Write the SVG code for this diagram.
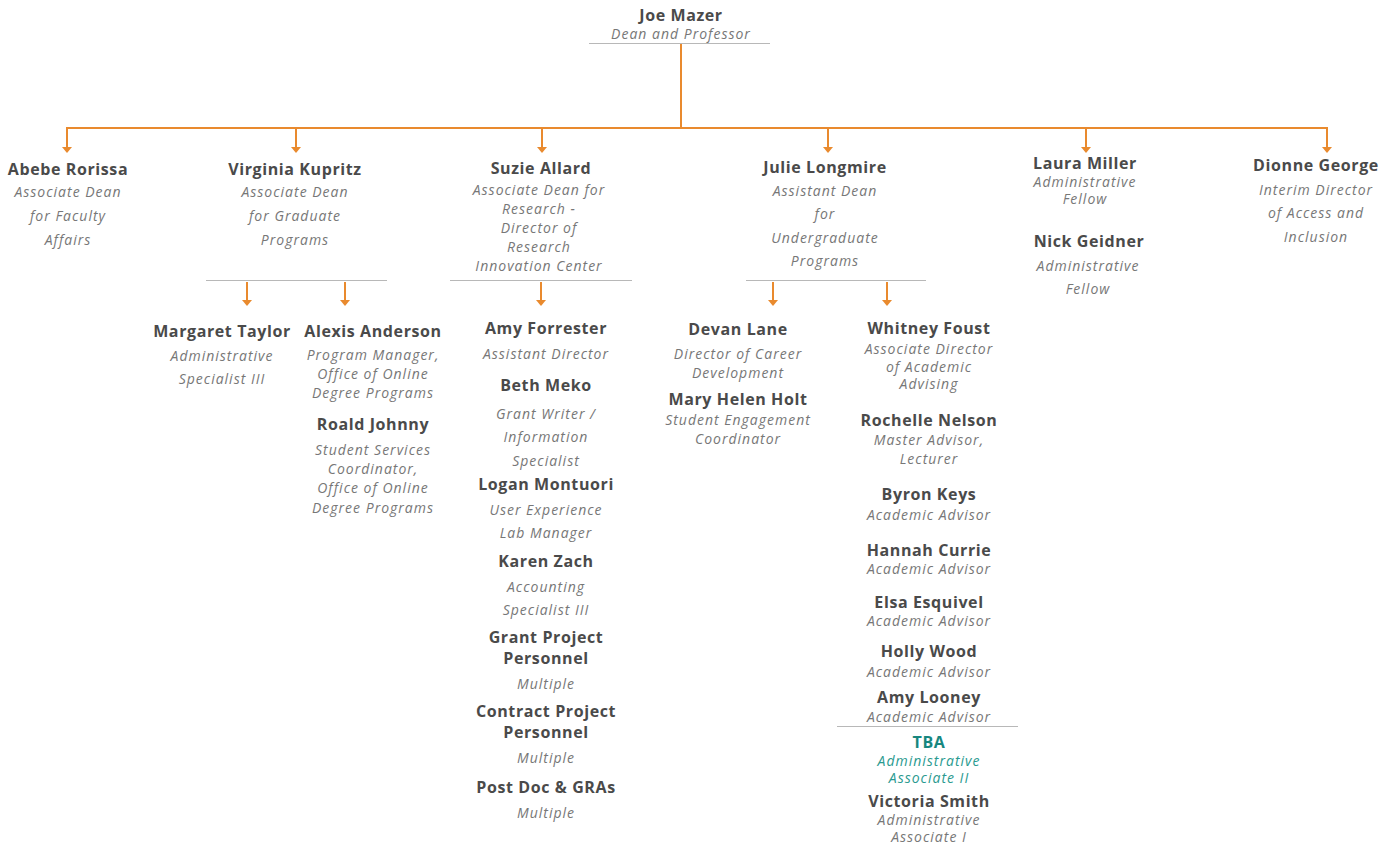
<svg xmlns="http://www.w3.org/2000/svg" width="1395" height="846" viewBox="0 0 1395 846">
<style>
.n{font-family:"Open Sans","Liberation Sans",sans-serif;font-weight:700;font-size:16px;letter-spacing:0.6px;fill:#4a4a4a;text-anchor:middle}
.t{font-family:"Open Sans","Liberation Sans",sans-serif;font-style:italic;font-size:14px;letter-spacing:1px;fill:#777777;text-anchor:middle}
.tn{fill:#17877f}
.tt{fill:#2a9a90}
.sep{stroke:#b8b8b8;stroke-width:1.2}
.c{stroke:#e98a2e;stroke-width:2;fill:none}
</style>
<rect width="1395" height="846" fill="#ffffff"/>
<g id="separators">
<line class="sep" x1="589" y1="43.5" x2="770" y2="43.5"/>
<line class="sep" x1="206" y1="280.5" x2="387" y2="280.5"/>
<line class="sep" x1="450" y1="280.5" x2="632" y2="280.5"/>
<line class="sep" x1="746" y1="280.5" x2="926" y2="280.5"/>
<line class="sep" x1="837" y1="726.5" x2="1018" y2="726.5"/>
</g>
<g id="connectors">
<path class="c" d="M681,44 V128 M66,128 H1328"/>
<path class="c" d="M67,127 V147 M296,128 V147 M542,128 V147 M828,128 V147 M1086,128 V147 M1327,127 V147"/>
<g fill="#e98a2e">
<path d="M62,147 H72 L67,153 Z"/>
<path d="M291,147 H301 L296,153 Z"/>
<path d="M537,147 H547 L542,153 Z"/>
<path d="M823,147 H833 L828,153 Z"/>
<path d="M1081,147 H1091 L1086,153 Z"/>
<path d="M1322,147 H1332 L1327,153 Z"/>
</g>
<path class="c" d="M247,282 V300 M345,282 V300 M541,282 V300 M773,282 V300 M887,282 V300"/>
<g fill="#e98a2e">
<path d="M242,300 H252 L247,306 Z"/>
<path d="M340,300 H350 L345,306 Z"/>
<path d="M536,300 H546 L541,306 Z"/>
<path d="M768,300 H778 L773,306 Z"/>
<path d="M882,300 H892 L887,306 Z"/>
</g>
</g>
<g id="joe-mazer">
<text class="n" x="681" y="21">Joe Mazer</text>
<text class="t" x="681" y="39">Dean and Professor</text>
</g>
<g id="abebe-rorissa">
<text class="n" x="68" y="175">Abebe Rorissa</text>
<text class="t" x="68" y="197">Associate Dean</text>
<text class="t" x="68" y="221">for Faculty</text>
<text class="t" x="68" y="245">Affairs</text>
</g>
<g id="virginia-kupritz">
<text class="n" x="295" y="175">Virginia Kupritz</text>
<text class="t" x="295" y="197">Associate Dean</text>
<text class="t" x="295" y="221">for Graduate</text>
<text class="t" x="295" y="245">Programs</text>
</g>
<g id="suzie-allard">
<text class="n" x="541" y="174">Suzie Allard</text>
<text class="t" x="539" y="195">Associate Dean for</text>
<text class="t" x="539" y="214">Research -</text>
<text class="t" x="539" y="233">Director of</text>
<text class="t" x="539" y="252">Research</text>
<text class="t" x="539" y="271">Innovation Center</text>
</g>
<g id="julie-longmire">
<text class="n" x="825" y="173">Julie Longmire</text>
<text class="t" x="825" y="196">Assistant Dean</text>
<text class="t" x="825" y="219">for</text>
<text class="t" x="825" y="243">Undergraduate</text>
<text class="t" x="825" y="266">Programs</text>
</g>
<g id="laura-miller">
<text class="n" x="1085" y="169">Laura Miller</text>
<text class="t" x="1085" y="187">Administrative</text>
<text class="t" x="1085" y="204">Fellow</text>
</g>
<g id="nick-geidner">
<text class="n" x="1089" y="247">Nick Geidner</text>
<text class="t" x="1088" y="271">Administrative</text>
<text class="t" x="1088" y="294">Fellow</text>
</g>
<g id="dionne-george">
<text class="n" x="1316" y="171">Dionne George</text>
<text class="t" x="1316" y="195">Interim Director</text>
<text class="t" x="1316" y="218">of Access and</text>
<text class="t" x="1316" y="242">Inclusion</text>
</g>
<g id="margaret-taylor">
<text class="n" x="222" y="337">Margaret Taylor</text>
<text class="t" x="222" y="361">Administrative</text>
<text class="t" x="222" y="384">Specialist III</text>
</g>
<g id="alexis-anderson">
<text class="n" x="373" y="337">Alexis Anderson</text>
<text class="t" x="373" y="360">Program Manager,</text>
<text class="t" x="373" y="379">Office of Online</text>
<text class="t" x="373" y="398">Degree Programs</text>
</g>
<g id="roald-johnny">
<text class="n" x="373" y="430">Roald Johnny</text>
<text class="t" x="373" y="455">Student Services</text>
<text class="t" x="373" y="474">Coordinator,</text>
<text class="t" x="373" y="493">Office of Online</text>
<text class="t" x="373" y="513">Degree Programs</text>
</g>
<g id="amy-forrester">
<text class="n" x="546" y="334">Amy Forrester</text>
<text class="t" x="546" y="359">Assistant Director</text>
</g>
<g id="beth-meko">
<text class="n" x="546" y="391">Beth Meko</text>
<text class="t" x="546" y="419">Grant Writer /</text>
<text class="t" x="546" y="442">Information</text>
<text class="t" x="546" y="466">Specialist</text>
</g>
<g id="logan-montuori">
<text class="n" x="546" y="490">Logan Montuori</text>
<text class="t" x="546" y="515">User Experience</text>
<text class="t" x="546" y="538">Lab Manager</text>
</g>
<g id="karen-zach">
<text class="n" x="546" y="567">Karen Zach</text>
<text class="t" x="546" y="592">Accounting</text>
<text class="t" x="546" y="615">Specialist III</text>
</g>
<g id="grant-project-personnel">
<text class="n" x="546" y="643">Grant Project</text>
<text class="n" x="546" y="664">Personnel</text>
<text class="t" x="546" y="689">Multiple</text>
</g>
<g id="contract-project-personnel">
<text class="n" x="546" y="717">Contract Project</text>
<text class="n" x="546" y="738">Personnel</text>
<text class="t" x="546" y="763">Multiple</text>
</g>
<g id="post-doc-gras">
<text class="n" x="546" y="793">Post Doc &amp; GRAs</text>
<text class="t" x="546" y="818">Multiple</text>
</g>
<g id="devan-lane">
<text class="n" x="738" y="335">Devan Lane</text>
<text class="t" x="738" y="359">Director of Career</text>
<text class="t" x="738" y="378">Development</text>
</g>
<g id="mary-helen-holt">
<text class="n" x="738" y="405">Mary Helen Holt</text>
<text class="t" x="738" y="425">Student Engagement</text>
<text class="t" x="738" y="444">Coordinator</text>
</g>
<g id="whitney-foust">
<text class="n" x="929" y="334">Whitney Foust</text>
<text class="t" x="929" y="354">Associate Director</text>
<text class="t" x="929" y="372">of Academic</text>
<text class="t" x="929" y="389">Advising</text>
</g>
<g id="rochelle-nelson">
<text class="n" x="929" y="426">Rochelle Nelson</text>
<text class="t" x="929" y="445">Master Advisor,</text>
<text class="t" x="929" y="464">Lecturer</text>
</g>
<g id="byron-keys">
<text class="n" x="929" y="500">Byron Keys</text>
<text class="t" x="929" y="520">Academic Advisor</text>
</g>
<g id="hannah-currie">
<text class="n" x="929" y="556">Hannah Currie</text>
<text class="t" x="929" y="574">Academic Advisor</text>
</g>
<g id="elsa-esquivel">
<text class="n" x="929" y="608">Elsa Esquivel</text>
<text class="t" x="929" y="626">Academic Advisor</text>
</g>
<g id="holly-wood">
<text class="n" x="929" y="657">Holly Wood</text>
<text class="t" x="929" y="677">Academic Advisor</text>
</g>
<g id="amy-looney">
<text class="n" x="929" y="703">Amy Looney</text>
<text class="t" x="929" y="722">Academic Advisor</text>
</g>
<g id="tba">
<text class="n tn" x="929" y="748">TBA</text>
<text class="t tt" x="929" y="766">Administrative</text>
<text class="t tt" x="929" y="783">Associate II</text>
</g>
<g id="victoria-smith">
<text class="n" x="929" y="807">Victoria Smith</text>
<text class="t" x="929" y="825">Administrative</text>
<text class="t" x="929" y="842">Associate I</text>
</g>
</svg>
